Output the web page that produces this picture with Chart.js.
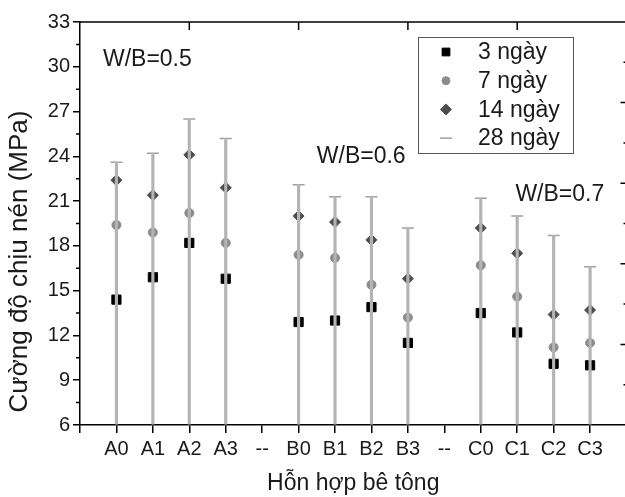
<!DOCTYPE html>
<html>
<head>
<meta charset="utf-8">
<script src="https://cdn.jsdelivr.net/npm/chart.js@4/dist/chart.umd.min.js"></script>
<style>
    html, body { margin: 0; padding: 0; background: #fff; overflow: hidden; }
    #wrap { width: 625px; height: 497px; overflow: hidden; }
</style>
</head>
<body>
<div id="wrap"><canvas id="chart" width="634" height="497"></canvas></div>
<script>
// Mix labels along the x axis (blank ends, "--" separators between groups)
const categories = ['', 'A0', 'A1', 'A2', 'A3', '--', 'B0', 'B1', 'B2', 'B3', '--', 'C0', 'C1', 'C2', 'C3', ''];

// Compressive strength (MPa) per curing age
const day3  = [null, 14.4, 15.9, 18.2, 15.8, null, 12.9, 13.0, 13.9, 11.5, null, 13.5, 12.2, 10.1, 10.0, null];
const day7  = [null, 19.4, 18.9, 20.2, 18.2, null, 17.4, 17.2, 15.4, 13.2, null, 16.7, 14.6, 11.2, 11.5, null];
const day14 = [null, 22.4, 21.4, 24.1, 21.9, null, 20.0, 19.6, 18.4, 15.8, null, 19.2, 17.5, 13.4, 13.7, null];
const day28 = [null, 23.6, 24.2, 26.5, 25.2, null, 22.1, 21.3, 21.3, 19.2, null, 21.2, 20.0, 18.7, 16.6, null];

const seriesNames = ['3 ngày', '7 ngày', '14 ngày', '28 ngày'];
const groupNotes = ['W/B=0.5', 'W/B=0.6', 'W/B=0.7'];
const yTitle = 'Cường độ chịu nén (MPa)';

const FONT = "'Liberation Sans', Arial, sans-serif";
const Y_MIN = 6, Y_MAX = 33, Y_STEP = 3;

// Label positions in data units (x = category index, y = MPa)
const notePos = [[0.63, 30.45], [6.5, 23.95], [11.95, 21.4]];

// Axis frame extras: top line, minor ticks, inner ticks on top/right, notes, y title, legend box
const decor = {
    id: 'decor',
    afterDraw(chart) {
        const { ctx, chartArea: a, scales } = chart;
        const xs = scales.x, ys = scales.y;
        ctx.save();
        ctx.strokeStyle = '#000';
        ctx.lineWidth = 1.5;
        ctx.beginPath();
        ctx.moveTo(a.left - 0.75, a.top);
        ctx.lineTo(a.right, a.top);
        // left minor ticks
        for (let v = Y_MIN + Y_STEP / 2; v < Y_MAX; v += Y_STEP) {
            const py = ys.getPixelForValue(v);
            ctx.moveTo(a.left - 4, py);
            ctx.lineTo(a.left, py);
        }
        // top ticks, pointing in
        for (let i = 3; i < categories.length - 1; i += 3) {
            const px = xs.getPixelForValue(i);
            ctx.moveTo(px, a.top);
            ctx.lineTo(px, a.top + 8);
        }
        // right ticks, pointing in (10 steps, alternating long/short)
        for (let k = 1; k < 10; k++) {
            const py = a.top + (a.bottom - a.top) * k / 10;
            const len = k % 2 === 0 ? 6 : 3;
            ctx.moveTo(a.right, py);
            ctx.lineTo(a.right - len, py);
        }
        ctx.stroke();

        // group notes
        ctx.fillStyle = '#1a1a1a';
        ctx.font = '23px ' + FONT;
        ctx.textAlign = 'left';
        ctx.textBaseline = 'middle';
        groupNotes.forEach((t, i) => {
            ctx.fillText(t, xs.getPixelForValue(notePos[i][0]), ys.getPixelForValue(notePos[i][1]));
        });

        // y axis title, sits a little below the axis middle
        ctx.save();
        ctx.translate(20, (a.top + a.bottom) / 2 + 38);
        ctx.rotate(-Math.PI / 2);
        ctx.textAlign = 'center';
        ctx.font = '26px ' + FONT;
        ctx.fillText(yTitle, 0, 0);
        ctx.restore();

        // legend box
        const bx = 418, by = 37, bw = 155, bh = 116;
        ctx.strokeStyle = '#555';
        ctx.lineWidth = 1;
        ctx.strokeRect(bx + 0.5, by + 0.5, bw, bh);
        seriesNames.forEach((name, row) => {
            const ds = chart.data.datasets.find(d => d.label === name);
            const cy = by + 15 + row * 28.7;
            ctx.fillStyle = ds.pointBackgroundColor || ds.backgroundColor;
            ctx.strokeStyle = ds.pointBorderColor || ds.borderColor;
            ctx.lineWidth = ds.pointBorderWidth || 1.5;
            Chart.helpers.drawPoint(ctx, {
                pointStyle: ds.pointStyle, radius: ds.legendRadius, rotation: 0, borderWidth: ctx.lineWidth
            }, bx + 28, cy);
            ctx.fillStyle = '#1a1a1a';
            ctx.font = '23px ' + FONT;
            ctx.textBaseline = 'middle';
            ctx.fillText(name, bx + 60, cy + 1);
        });
        ctx.restore();
    }
};

new Chart(document.getElementById('chart'), {
    type: 'line',
    data: {
        labels: categories,
        datasets: [
            {
                // 28-day drop lines
                type: 'bar',
                label: 'drop',
                data: day28,
                base: Y_MIN,
                barThickness: 2.5,
                backgroundColor: '#b4b4b4',
                order: 0
            },
            {
                label: seriesNames[3],
                data: day28,
                showLine: false,
                pointStyle: 'line',
                pointRadius: 6,
                legendRadius: 6,
                pointBorderWidth: 1.5,
                borderColor: '#a0a0a0',
                backgroundColor: '#a0a0a0',
                pointBorderColor: '#a0a0a0',
                order: 0
            },
            {
                label: seriesNames[0],
                data: day3,
                showLine: false,
                pointStyle: 'rect',
                pointRadius: 6.5,
                legendRadius: 5.5,
                pointBorderWidth: 1,
                borderColor: '#000',
                backgroundColor: '#000',
                pointBackgroundColor: '#000',
                pointBorderColor: '#000',
                order: 1
            },
            {
                label: seriesNames[1],
                data: day7,
                showLine: false,
                pointStyle: 'circle',
                pointRadius: 4.5,
                legendRadius: 4,
                pointBorderWidth: 1,
                borderColor: '#8c8c8c',
                backgroundColor: '#8c8c8c',
                pointBackgroundColor: '#8c8c8c',
                pointBorderColor: '#8c8c8c',
                order: 1
            },
            {
                label: seriesNames[2],
                data: day14,
                showLine: false,
                pointStyle: 'rectRot',
                pointRadius: 5.5,
                legendRadius: 5.5,
                pointBorderWidth: 1,
                borderColor: '#4d4d4d',
                backgroundColor: '#4d4d4d',
                pointBackgroundColor: '#4d4d4d',
                pointBorderColor: '#4d4d4d',
                order: 1
            }
        ]
    },
    options: {
        responsive: false,
        animation: false,
        layout: { padding: { top: 22, right: 0, left: 0, bottom: 0 } },
        plugins: {
            legend: { display: false },
            tooltip: { enabled: false }
        },
        scales: {
            x: {
                offset: false,
                grid: { offset: false, drawOnChartArea: false, tickLength: 8, color: '#000', lineWidth: 1.5 },
                border: { color: '#000', width: 1.5 },
                ticks: { autoSkip: false, maxRotation: 0, color: '#1a1a1a', font: { family: FONT, size: 20 }, padding: 4 },
                title: { display: true, text: 'Hỗn hợp bê tông', color: '#1a1a1a', font: { family: FONT, size: 23 }, padding: { top: 4, bottom: 0 } },
                afterFit: s => { s.height = 72; }
            },
            y: {
                min: Y_MIN,
                max: Y_MAX,
                grid: { drawOnChartArea: false, tickLength: 7, color: '#000', lineWidth: 1.5 },
                border: { color: '#000', width: 1.5 },
                ticks: { stepSize: Y_STEP, color: '#1a1a1a', font: { family: FONT, size: 20 }, padding: 3 },
                afterFit: s => { s.width = 80; }
            }
        }
    },
    plugins: [decor]
});
</script>
</body>
</html>
